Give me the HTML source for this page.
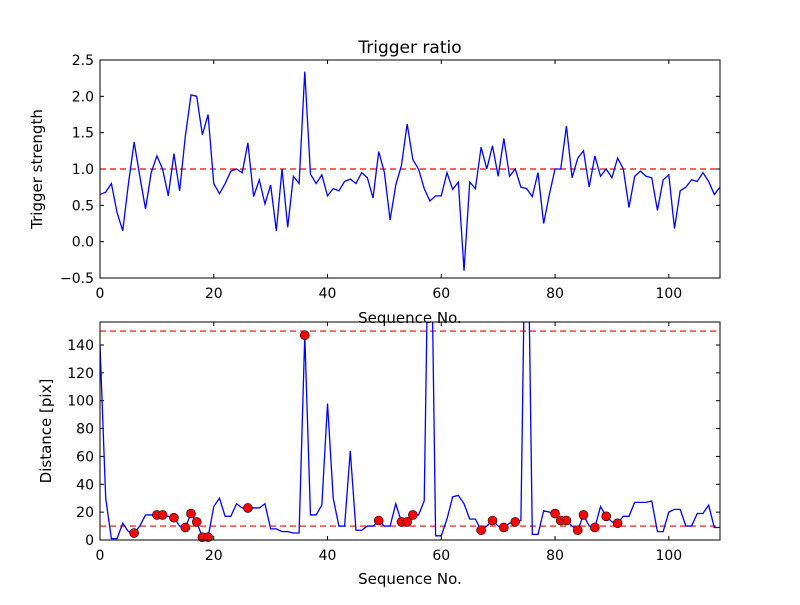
<!DOCTYPE html>
<html><head><meta charset="utf-8"><style>body{margin:0;background:#fff}svg{font-family:"DejaVu Sans","Liberation Sans",sans-serif}</style></head>
<body>
<svg id="chart" width="800" height="600" xmlns="http://www.w3.org/2000/svg">
<rect width="800" height="600" fill="#fff"/>
<defs>
<clipPath id="c1"><rect x="100" y="60" width="620" height="218"/></clipPath>
<clipPath id="c2"><rect x="100" y="322" width="620" height="218"/></clipPath>
</defs>
<g id="g"></g>
</svg>
<script>
const ratioValues=[0.65,0.68,0.8,0.4,0.15,0.8,1.37,0.9,0.45,0.95,1.18,1.0,0.63,1.21,0.7,1.45,2.02,2.0,1.47,1.75,0.8,0.66,0.8,0.97,1.0,0.95,1.36,0.62,0.85,0.52,0.78,0.15,1.0,0.2,0.9,0.8,2.34,0.93,0.8,0.92,0.63,0.73,0.7,0.83,0.86,0.8,0.95,0.88,0.6,1.24,0.95,0.3,0.78,1.05,1.62,1.13,1.0,0.73,0.56,0.63,0.63,0.95,0.72,0.82,-0.4,0.82,0.73,1.3,1.0,1.32,0.9,1.42,0.9,1.0,0.75,0.73,0.62,0.95,0.25,0.65,1.0,1.0,1.59,0.88,1.15,1.25,0.75,1.18,0.9,1.0,0.88,1.15,1.0,0.47,0.9,0.97,0.9,0.88,0.43,0.85,0.92,0.18,0.7,0.75,0.85,0.83,0.95,0.83,0.65,0.75];
const distValues=[140,30,1,1,12,6,5,10,18,18,18,18,17,16,10,9,19,13,2,2,24,30,17,17,26,23,23,23,23,26,8,8,6,6,5,5,147,18,18,25,98,30,10,10,64,7,7,10,10,14,10,10,26,13,13,18,18,28,300,3,3,15,31,32,26,15,15,7,10,14,10,9,12,13,14,300,4,4,21,20,19,14,14,10,7,18,10,9,24,17,13,12,17,17,27,27,27,28,6,6,20,22,22,10,10,19,19,25,9,9];
const dotIdx=[6,10,11,13,15,16,17,18,19,26,36,49,53,54,55,67,69,71,73,80,81,82,84,85,87,89,91];
const ratioTicks=[-0.5,0,0.5,1.0,1.5,2.0,2.5];
const distTicks=[0,20,40,60,80,100,120,140];
const xTicks=[0,20,40,60,80,100];
const ratioThresh=[1.0];
const distThresh=[10,150];

const NS='http://www.w3.org/2000/svg',g=document.getElementById('g');
function el(t,a,txt){const e=document.createElementNS(NS,t);for(const k in a)e.setAttribute(k,a[k]);if(txt!==undefined)e.textContent=txt;g.appendChild(e);return e;}
const X=v=>100+v*620/109;
const Y1=v=>278-(v+0.5)*218/3;
const Y2=v=>540-v*218/156.5;

function axes(top,Y,yt,fmt,name){
  const bot=top+218;
  for(const t of xTicks){const x=X(t);
    let l=el('line',{x1:x,x2:x,y1:bot,y2:bot-4,stroke:'#000'});
    el('line',{x1:x,x2:x,y1:top,y2:top+4,stroke:'#000'});
    let tx=el('text',{x:x,y:bot+20,'text-anchor':'middle','font-size':14},String(t));}
  for(const t of yt){const y=Y(t);
    let l=el('line',{x1:100,x2:104,y1:y,y2:y,stroke:'#000'});
    el('line',{x1:716,x2:720,y1:y,y2:y,stroke:'#000'});
    let tx=el('text',{x:94,y:y+5,'text-anchor':'end','font-size':14},fmt(t));}
}
axes(60,Y1,ratioTicks,t=>t.toFixed(1).replace('-','\u2212'),'ratio');
axes(322,Y2,distTicks,t=>String(t),'dist');

let h=el('line',{x1:100,x2:720,y1:Y1(ratioThresh[0]),y2:Y1(ratioThresh[0]),stroke:'#f00','stroke-dasharray':'6,4','stroke-width':1.2});

let p=el('polyline',{points:ratioValues.map((v,i)=>X(i)+','+Y1(v)).join(' '),fill:'none',stroke:'#00f','stroke-width':1.3,'clip-path':'url(#c1)'});


for(const t of distThresh){let d=el('line',{x1:100,x2:720,y1:Y2(t),y2:Y2(t),stroke:'#f00','stroke-dasharray':'6,4','stroke-width':1.2});
}
let q=el('polyline',{points:distValues.map((v,i)=>X(i)+','+Y2(v)).join(' '),fill:'none',stroke:'#00f','stroke-width':1.3,'clip-path':'url(#c2)'});

for(const i of dotIdx){let c=el('circle',{cx:X(i),cy:Y2(distValues[i]),r:4.5,fill:'#f00',stroke:'#000','stroke-width':0.6});
}

let f1=el('rect',{x:100,y:60,width:620,height:218,fill:'none',stroke:'#000'});
let f2=el('rect',{x:100,y:322,width:620,height:218,fill:'none',stroke:'#000'});

let t1=el('text',{x:410,y:53,'text-anchor':'middle','font-size':17},'Trigger ratio');
let a1=el('text',{x:410,y:323,'text-anchor':'middle','font-size':15},'Sequence No.');
let a2=el('text',{x:410,y:584,'text-anchor':'middle','font-size':15},'Sequence No.');
let a3=el('text',{x:42,y:169,'text-anchor':'middle','font-size':15,transform:'rotate(-90 42 169)'},'Trigger strength');
let a4=el('text',{x:51,y:431,'text-anchor':'middle','font-size':15,transform:'rotate(-90 51 431)'},'Distance [pix]');
</script>
</body></html>
